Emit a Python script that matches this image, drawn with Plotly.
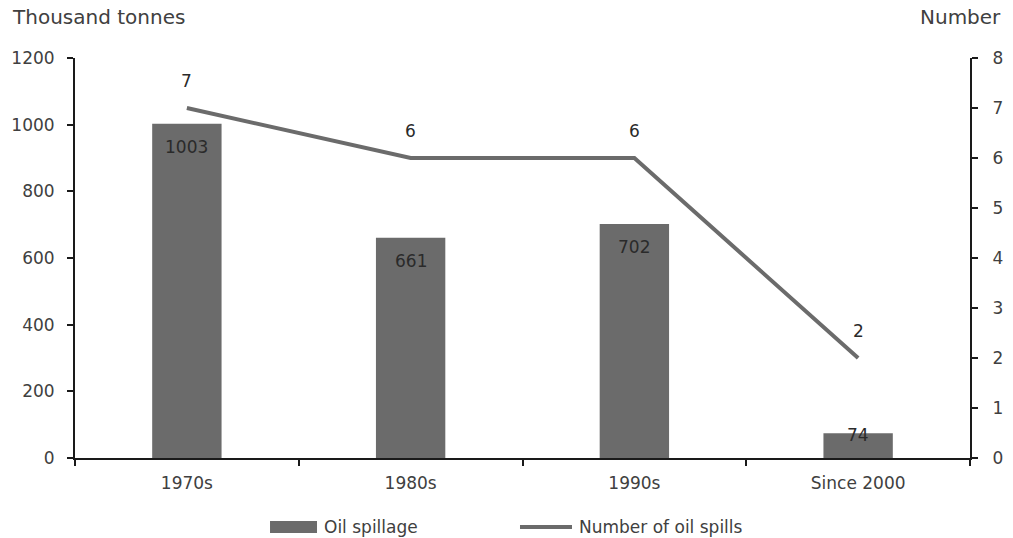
import plotly.graph_objects as go

# Oil spills by decade
decades = ["1970s", "1980s", "1990s", "Since 2000"]
spillage_kt = [1003, 661, 702, 74]      # thousand tonnes
spill_count = [7, 6, 6, 2]              # number of large spills

left_ticks = [0, 200, 400, 600, 800, 1000, 1200]
right_ticks = [0, 1, 2, 3, 4, 5, 6, 7, 8]

GREY = "#6b6b6b"
TEXT = "#404040"
AXIS = "#1a1a1a"
FONT = "'DejaVu Sans', sans-serif"
FS = 17

fig = go.Figure()

fig.add_trace(go.Bar(
    x=decades, y=spillage_kt, name="Oil spillage",
    marker=dict(color=GREY, line=dict(width=0)),
    width=0.31, showlegend=False,
))

fig.add_trace(go.Scatter(
    x=decades, y=spill_count, name="Number of oil spills",
    mode="lines", line=dict(color=GREY, width=4),
    yaxis="y2", showlegend=False,
))

# value labels on bars (inside, near the top)
for d, v in zip(decades, spillage_kt):
    shift = -23 if v > 150 else -2
    fig.add_annotation(x=d, y=v, yref="y", text=str(v), showarrow=False,
                       yshift=shift, font=dict(size=FS, color="#2a2a2a", family=FONT))

# value labels above line points
for d, v in zip(decades, spill_count):
    fig.add_annotation(x=d, y=v, yref="y2", text=str(v), showarrow=False,
                       yshift=27, font=dict(size=FS, color="#2a2a2a", family=FONT))

# axis titles
fig.add_annotation(x=0, y=1, xref="paper", yref="paper", xanchor="left", yanchor="bottom",
                   xshift=-65, yshift=27, text="Thousand tonnes", showarrow=False,
                   font=dict(size=20, color=TEXT, family=FONT))
fig.add_annotation(x=1, y=1, xref="paper", yref="paper", xanchor="left", yanchor="bottom",
                   xshift=-52, yshift=27, text="Number", showarrow=False,
                   font=dict(size=20, color=TEXT, family=FONT))

# legend drawn below the plot: bar swatch + line swatch with labels
leg_y = -0.1725
fig.add_shape(type="rect", xref="paper", yref="paper",
              x0=0.2179, x1=0.2704, y0=-0.1875, y1=-0.1575,
              fillcolor=GREY, line=dict(width=0))
fig.add_shape(type="line", xref="paper", yref="paper",
              x0=0.4972, x1=0.5553, y0=leg_y, y1=leg_y,
              line=dict(color=GREY, width=4))
fig.add_annotation(x=0.2760, y=leg_y, xref="paper", yref="paper", xanchor="left",
                   yanchor="middle", text="Oil spillage", showarrow=False,
                   font=dict(size=FS, color=TEXT, family=FONT))
fig.add_annotation(x=0.5610, y=leg_y, xref="paper", yref="paper", xanchor="left",
                   yanchor="middle", text="Number of oil spills", showarrow=False,
                   font=dict(size=FS, color=TEXT, family=FONT))

fig.update_layout(
    width=1013, height=538,
    margin=dict(l=75, r=43, t=58, b=80),
    paper_bgcolor="white", plot_bgcolor="white",
    font=dict(family=FONT, size=FS, color=TEXT),
    showlegend=False,
    bargap=0.69,
    xaxis=dict(
        type="category", showgrid=False, showline=True, linecolor=AXIS, linewidth=2,
        ticks="outside", tickson="boundaries", ticklen=6, tickwidth=2, tickcolor=AXIS,
        tickfont=dict(size=FS, color=TEXT, family=FONT), ticklabelstandoff=9,
        automargin=False,
    ),
    yaxis=dict(
        range=[0, 1200], tickvals=left_ticks, showgrid=False, zeroline=False,
        showline=True, linecolor=AXIS, linewidth=2,
        ticks="outside", ticklen=6, tickwidth=2, tickcolor=AXIS,
        tickfont=dict(size=FS, color=TEXT, family=FONT), ticklabelstandoff=9,
        automargin=False,
    ),
    yaxis2=dict(
        range=[0, 8], tickvals=right_ticks, overlaying="y", side="right",
        showgrid=False, zeroline=False, showline=True, linecolor=AXIS, linewidth=2,
        ticks="outside", ticklen=6, tickwidth=2, tickcolor=AXIS,
        tickfont=dict(size=FS, color=TEXT, family=FONT), ticklabelstandoff=11,
        automargin=False,
    ),
)

fig.write_html("out.html")
